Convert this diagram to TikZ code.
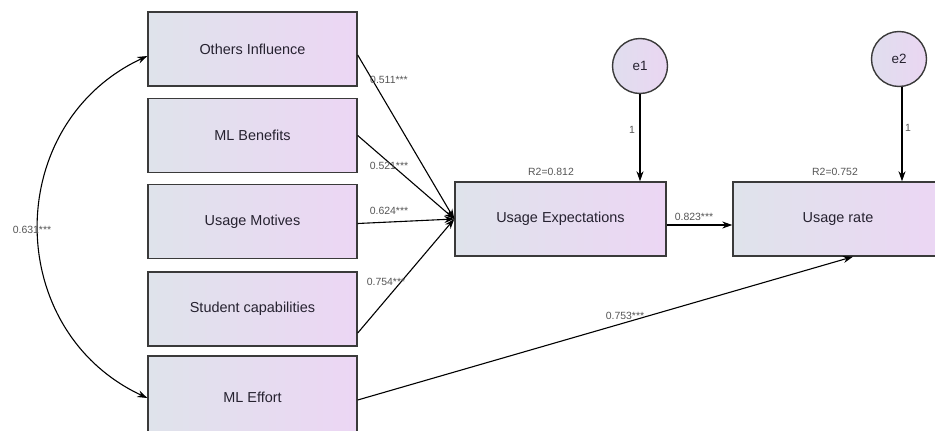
\documentclass[tikz,border=0pt]{standalone}
\usepackage{fontspec}
\setmainfont{Liberation Sans}
\usetikzlibrary{arrows.meta,calc}
\definecolor{boxL}{HTML}{DFE3EB}
\definecolor{boxR}{HTML}{ECD6F4}
\definecolor{circL}{HTML}{E0DEEE}
\definecolor{circR}{HTML}{EAD6F2}
\definecolor{boxline}{HTML}{3A3A3A}
\definecolor{txt}{HTML}{262230}
\definecolor{labc}{HTML}{555555}
\begin{document}
\begin{tikzpicture}[x=1bp,y=1bp,
  var/.style={draw=boxline, line width=1.4bp, minimum width=209bp, minimum height=74bp,
    left color=boxL, right color=boxR, font=\fontsize{14.5}{16}\selectfont, text=txt, inner sep=0pt},
  err/.style={circle, draw=boxline, line width=1.4bp, minimum size=55bp,
    left color=circL, right color=circR, font=\fontsize{13.5}{15}\selectfont, text=txt, inner sep=0pt},
  reg/.style={draw=black, line width=1.1bp, -{Stealth[length=10bp,width=7bp]}},
  cov/.style={draw=black, line width=1.1bp, {Stealth[length=10bp,width=7bp]}-{Stealth[length=10bp,width=7bp]}},
  coef/.style={font=\fontsize{10.5}{12}\selectfont, text=labc, inner sep=0pt}]
\useasboundingbox (0,0) rectangle (935,430);
% exogenous variables
\node[var] (oi) at (252.5,381) {Others Influence};
\node[var] (mb) at (252.5,294.5) {ML Benefits};
\node[var] (um) at (252.5,208.5) {Usage Motives};
\node[var] (sc) at (252.5,121) {Student capabilities};
\node[var, minimum height=82bp] (me) at (252.5,33) {ML Effort};
% endogenous variables
\node[var, minimum width=211bp] (ue) at (560.5,211) {Usage Expectations};
\node[var, minimum width=210bp] (ur) at (838,211) {Usage rate};
% errors
\node[err] (e1) at (640,364) {e1};
\node[err] (e2) at (899,371) {e2};
% paths
\draw[reg] ([yshift=-6bp]oi.east) -- (ue.west);
\draw[reg] (mb.east) -- (ue.west);
\draw[reg] ([yshift=-2bp]um.east) -- (ue.west);
\draw[reg] ([yshift=-24bp]sc.east) -- (ue.west);
\draw[reg] ([yshift=-3bp]me.east) -- ([xshift=15bp]ur.south);
\draw[reg] ([yshift=-6bp]ue.east) -- ([yshift=-6bp]ur.west);
\draw[reg] (e1.south) -- (e1.south |- ue.north);
\draw[reg] ([xshift=3bp]e2.south) -- ([xshift=3bp]e2.south |- ur.north);
\draw[cov] ([yshift=-7bp]oi.west) to[out=205, in=155, looseness=1.2] ([yshift=-1bp]me.west);
% coefficients
\node[coef] (l1) at (389,350) {0.511***};
\node[coef] (l2) at (389,264) {0.521***};
\node[coef] (l3) at (389,219) {0.624***};
\node[coef] (l4) at (386,148) {0.754***};
\node[coef] (l5) at (694,213) {0.823***};
\node[coef] (l6) at (625,114) {0.753***};
\node[coef] (l7) at (32,200) {0.631***};
\node[coef] (r1) at (551,258) {R2=0.812};
\node[coef] (r2) at (835,258) {R2=0.752};
\node[coef] (w1) at (632,300) {1};
\node[coef] (w2) at (908,302) {1};
\end{tikzpicture}
\end{document}
